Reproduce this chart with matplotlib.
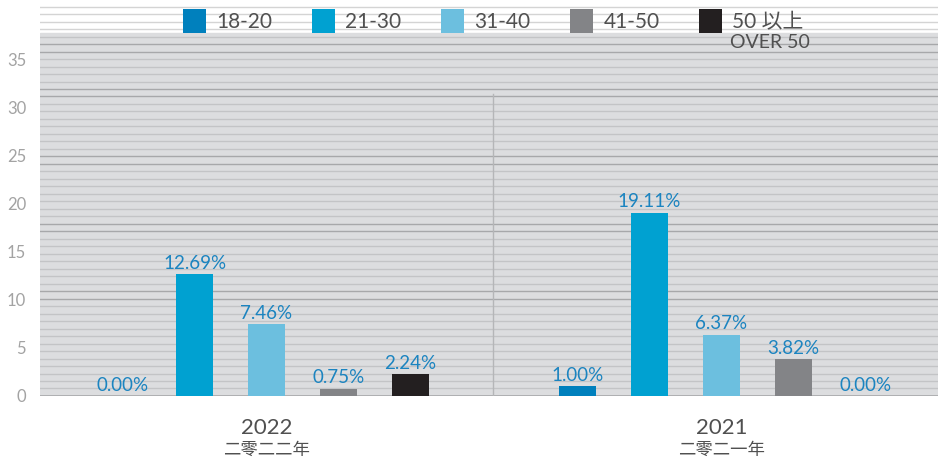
import numpy as np
import matplotlib as mpl
mpl.use('Agg')
import matplotlib.pyplot as plt

plt.rcParams['font.family'] = ['Lato', 'Noto Sans CJK TC', 'DejaVu Sans']

# data
years = ['2022', '2021']
years_zh = ['二零二二年', '二零二一年']
groups = ['18-20', '21-30', '31-40', '41-50', '50 以上']
values = {
    '18-20': [0.00, 1.00],
    '21-30': [12.69, 19.11],
    '31-40': [7.46, 6.37],
    '41-50': [0.75, 3.82],
    '50 以上': [2.24, 0.00],
}
colors = ['#0080bd', '#00a1d1', '#6cbfdf', '#838487', '#231f20']
yticks = [0, 5, 10, 15, 20, 25, 30, 35]

fig = plt.figure(figsize=(9.38, 4.58), dpi=100)
ax = fig.add_axes([0.0426, 0.1354, 0.9574, 0.8646])

ytop = 41.25
band_top = 37.8
ax.set_ylim(0, ytop)
ax.set_xlim(-0.498, 1.476)

# striped background
ax.axhspan(0, band_top, color='#dcdddf', zorder=0)
stripes = np.arange(0.78, ytop, 0.78)
dark = {12, 13, 21, 22, 30, 31, 39, 40, 45, 46}
for i, yy in enumerate(stripes):
    if yy > band_top:
        c = '#d4d4d4'
    elif i in dark:
        c = '#a7a8aa'
    else:
        c = '#c3c4c6'
    ax.axhline(yy, color=c, lw=1.0, zorder=1)
ax.axhline(0, color='#a7a8aa', lw=1.2, zorder=1)

# divider between years
ax.axvline(0.498, ymax=31.5 / ytop, color='#b5b6b8', lw=1.0, zorder=1)

x = np.arange(len(years))
step = 0.158
width = 0.081
for k, (g, c) in enumerate(zip(groups, colors)):
    pos = x + (k - 2) * step
    bars = ax.bar(pos, values[g], width, color=c, label=g, zorder=3)
    for b, v in zip(bars, values[g]):
        ax.text(b.get_x() + b.get_width() / 2, v + 0.25, '%.2f%%' % v,
                ha='center', va='bottom', color='#1b84c0', fontsize=13.5, zorder=4)

for xi, y1, y2 in zip(x, years, years_zh):
    ax.text(xi, -2.3, y1, ha='center', va='top', fontsize=16, color='#505050')
    ax.text(xi, -4.75, y2, ha='center', va='top', fontsize=12.5, color='#505050')

ax.set_xticks([])
ax.set_yticks(yticks)
ax.tick_params(axis='y', length=0, pad=10, labelsize=12, labelcolor='#a3a3a3')
for s in ax.spines.values():
    s.set_visible(False)

leg = ax.legend(loc='upper center', bbox_to_anchor=(0.505, 1.0), ncol=5, frameon=False,
                fontsize=15, handlelength=1.1, handleheight=1.4, handletextpad=0.5,
                columnspacing=1.9, labelcolor='#505050', borderaxespad=0.05)

# second line under the last legend label
fig.canvas.draw()
bb = leg.get_texts()[-1].get_window_extent().transformed(fig.transFigure.inverted())
fig.text((bb.x0 + bb.x1) / 2 + 0.002, bb.y0 - 0.004, 'OVER 50', ha='center', va='top',
         fontsize=14, color='#505050')

fig.savefig('out.png', dpi=100)
